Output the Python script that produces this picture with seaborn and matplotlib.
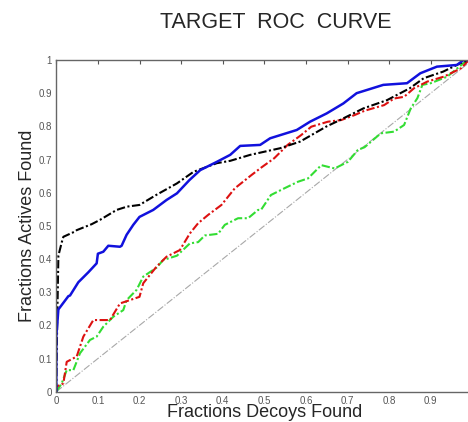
import numpy as np
import pandas as pd
import seaborn as sns
import matplotlib.pyplot as plt

# points (fraction decoys found, fraction actives found)
black_x=[0,0.002,0.005,0.013,0.017,0.045,0.049,0.085,0.105,0.145,0.17,0.2,0.24,0.29,0.33,0.386,0.418,0.466,0.538,0.586,0.65,0.682,0.738,0.795,0.85,0.883,0.93,0.979,1]
black_y=[0,0.2,0.41,0.45,0.467,0.483,0.487,0.505,0.518,0.548,0.558,0.563,0.593,0.628,0.663,0.689,0.696,0.714,0.734,0.754,0.80,0.819,0.854,0.879,0.915,0.945,0.965,0.995,1]

blue_x=[0,0,0.005,0.029,0.033,0.053,0.077,0.097,0.10,0.113,0.125,0.153,0.157,0.169,0.185,0.2,0.233,0.265,0.29,0.32,0.346,0.386,0.418,0.442,0.49,0.514,0.578,0.61,0.65,0.69,0.722,0.786,0.843,0.875,0.915,0.963,0.979,1]
blue_y=[0,0.166,0.248,0.288,0.29,0.33,0.36,0.387,0.416,0.422,0.44,0.437,0.44,0.473,0.503,0.527,0.548,0.578,0.598,0.638,0.668,0.693,0.714,0.741,0.744,0.764,0.789,0.814,0.839,0.869,0.90,0.925,0.93,0.96,0.98,0.985,1.0,1]

red_x=[0,0.0,0.017,0.025,0.049,0.065,0.089,0.129,0.153,0.2,0.209,0.241,0.265,0.297,0.321,0.341,0.365,0.397,0.429,0.469,0.493,0.524,0.556,0.589,0.613,0.653,0.685,0.717,0.741,0.788,0.812,0.836,0.86,0.892,0.932,0.973,0.988,1]
red_y=[0,0.015,0.025,0.09,0.106,0.166,0.216,0.216,0.266,0.286,0.327,0.377,0.407,0.427,0.477,0.508,0.533,0.563,0.613,0.653,0.676,0.704,0.744,0.774,0.799,0.814,0.819,0.834,0.847,0.864,0.884,0.889,0.915,0.935,0.95,0.975,0.995,1]

green_x=[0,0.013,0.025,0.041,0.057,0.081,0.097,0.113,0.137,0.161,0.169,0.193,0.209,0.241,0.257,0.29,0.321,0.341,0.357,0.389,0.405,0.437,0.461,0.485,0.492,0.516,0.548,0.581,0.605,0.637,0.669,0.701,0.725,0.741,0.78,0.812,0.836,0.852,0.868,0.88,0.9,0.94,0.964,0.988,1]
green_y=[0,0.025,0.065,0.065,0.116,0.156,0.166,0.196,0.226,0.246,0.276,0.307,0.347,0.374,0.397,0.41,0.447,0.451,0.471,0.476,0.503,0.523,0.523,0.548,0.548,0.593,0.613,0.633,0.643,0.683,0.673,0.693,0.729,0.737,0.779,0.784,0.804,0.854,0.885,0.925,0.93,0.95,0.975,1.0,1]

diag=[0,1]

sns.set_style("white")
plt.rcParams['font.family']=['Liberation Sans','DejaVu Sans']

fig=plt.figure(figsize=(4.68,4.22),dpi=100)
ax=fig.add_axes([56.3/468,1-391.7/422,416/468,331.7/422])

dd=(4,1.2,1,1.2)
ax.plot(diag,diag,color='#a8a8a8',lw=0.8,ls='-.')
sns.lineplot(x=green_x,y=green_y,ax=ax,color='#33dd33',lw=1.5,dashes=dd,sort=False,estimator=None)
sns.lineplot(x=red_x,y=red_y,ax=ax,color='#dd1111',lw=1.5,dashes=dd,sort=False,estimator=None)
sns.lineplot(x=black_x,y=black_y,ax=ax,color='black',lw=1.5,dashes=dd,sort=False,estimator=None)
sns.lineplot(x=blue_x,y=blue_y,ax=ax,color='#1111dd',lw=1.8,sort=False,estimator=None)

ax.set_xlim(0,1)
ax.set_ylim(0,1)
ticks=np.round(np.arange(0,1.01,0.1),1)
ax.set_xticks(ticks)
ax.set_yticks(ticks)
ax.set_xticklabels(['0']+[str(t) for t in ticks[1:-1]]+[''])
ax.set_yticklabels(['0']+[str(t) for t in ticks[1:-1]]+['1'])
ax.tick_params(direction='in',length=3,width=0.8,color='#555555',labelsize=7,labelcolor='#555555',
               top=True,right=True,pad=3)
for s in ax.spines.values():
    s.set_color('#666666')
    s.set_linewidth(1.0)

ax.set_xlabel('Fractions Decoys Found',fontsize=13,labelpad=-1)
ax.set_ylabel('Fractions Actives Found',fontsize=13,labelpad=2)
fig.text(275.5/468,1-22/422,'TARGET  ROC  CURVE',ha='center',va='center',fontsize=15.5)

fig.savefig('out.png',dpi=100)
